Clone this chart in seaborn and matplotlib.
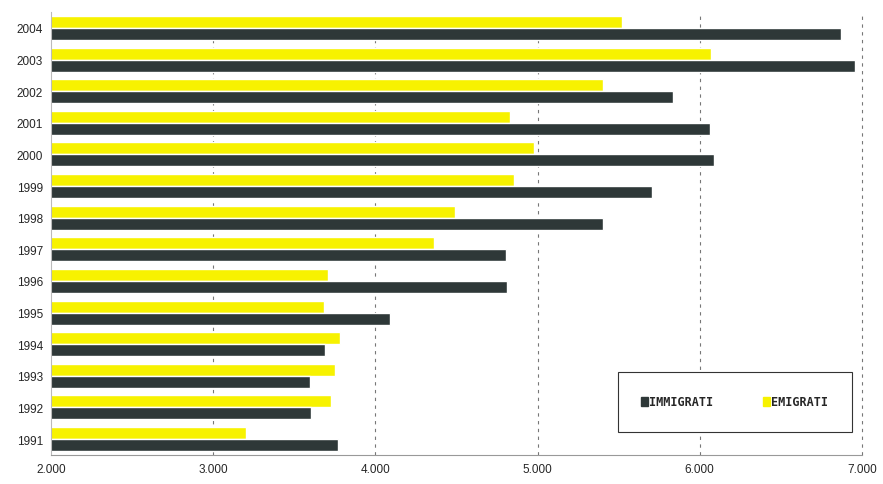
import matplotlib
matplotlib.use("Agg")
import matplotlib.pyplot as plt
import pandas as pd
import seaborn as sns
from matplotlib.patches import Patch
from matplotlib.ticker import FuncFormatter

# ---------------------------
# DATA
# ---------------------------
years = ["2004", "2003", "2002", "2001", "2000", "1999", "1998",
         "1997", "1996", "1995", "1994", "1993", "1992", "1991"]
immigrati = [6871, 6955, 5836, 6062, 6090, 5704, 5402,
             4804, 4814, 4092, 3689, 3595, 3605, 3769]
emigrati = [5523, 6069, 5402, 4828, 4978, 4853, 4491,
            4359, 3709, 3682, 3782, 3748, 3727, 3202]
x_ticks = [2000, 3000, 4000, 5000, 6000, 7000]

dark = "#2e3838"
yellow = "#f7f200"

df = pd.DataFrame({
    "anno": years * 2,
    "valore": emigrati + immigrati,
    "serie": ["EMIGRATI"] * len(years) + ["IMMIGRATI"] * len(years),
})

sns.set_style("white")
plt.rcParams["font.family"] = ["Liberation Sans", "DejaVu Sans"]

fig = plt.figure(figsize=(8.83, 4.85), dpi=100)
ax = fig.add_axes([0.058, 0.06, 0.918, 0.913])

sns.barplot(
    data=df, x="valore", y="anno", hue="serie", order=years,
    hue_order=["EMIGRATI", "IMMIGRATI"],
    palette={"EMIGRATI": yellow, "IMMIGRATI": dark},
    width=0.76, saturation=1, orient="h", ax=ax, legend=False,
)

ax.set_xlim(2000, 7000)
ax.set_xticks(x_ticks)
ax.xaxis.set_major_formatter(FuncFormatter(lambda v, _: f"{int(v):,}".replace(",", ".")))
ax.set_xlabel("")
ax.set_ylabel("")
ax.tick_params(axis="both", labelsize=8.5, length=0, pad=6)

# dashed vertical grid
for v in x_ticks[1:]:
    ax.axvline(v, color="#777777", lw=0.8, ls=(0, (3, 4)), zorder=0, clip_on=False)

for s in ["top", "right"]:
    ax.spines[s].set_visible(False)
ax.spines["left"].set_color("#bbbbbb")
ax.spines["bottom"].set_color("#999999")

handles = [Patch(color=dark, label="IMMIGRATI"), Patch(color=yellow, label="EMIGRATI")]
leg = ax.legend(
    handles=handles, loc="lower right", bbox_to_anchor=(0.988, 0.052),
    ncol=2, frameon=True, fancybox=False, handlelength=0.6, handleheight=0.8,
    handletextpad=0.1, columnspacing=4.2, borderpad=2.0, borderaxespad=0,
    prop={"family": "DejaVu Sans Mono", "weight": "bold", "size": 8.5},
)
leg.get_frame().set_edgecolor("#333333")
leg.get_frame().set_linewidth(0.8)
leg.get_frame().set_alpha(1)

fig.savefig("out.png", dpi=100)
